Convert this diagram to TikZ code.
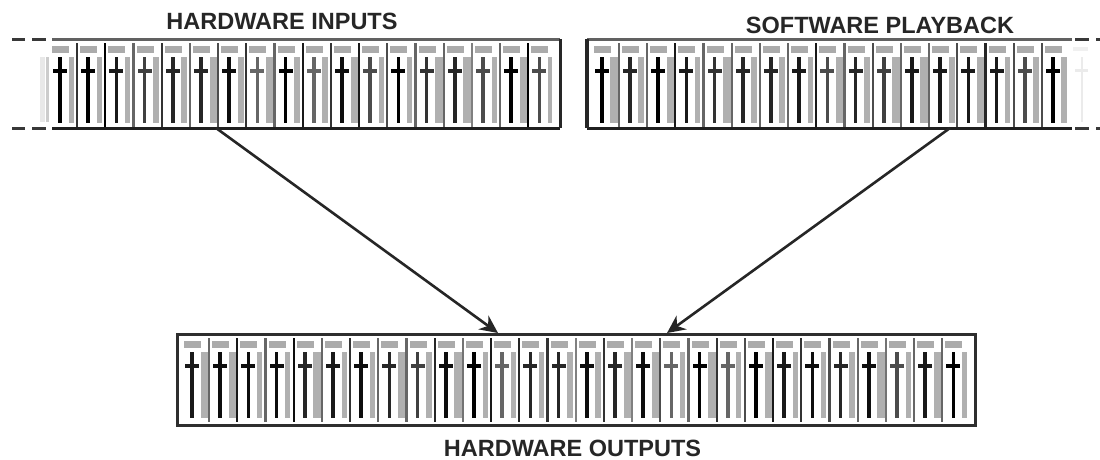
\documentclass[tikz,border=0pt]{standalone}
\usepackage{fontspec}
\setmainfont{Liberation Sans}
\usetikzlibrary{arrows.meta}
\tikzset{
  titletext/.style={inner sep=0pt,font=\fontsize{23.5}{25}\selectfont\bfseries,text=black!85},
  rackbox/.style={inner sep=0pt,minimum height=89pt,anchor=north west},
  topedge/.style={line width=3pt,draw=black!62},
  botedge/.style={line width=3pt,draw=black!88},
  sideedge/.style={line width=3.2pt,draw=black!85},
  dashseg/.style={line width=3pt,draw=black!78},
  flow/.style={line width=2.6pt,draw=black!85,-{Stealth[length=18pt,width=17pt]}},
}
% \stripchannels{first fader x}{box top y}{fader shade/bar width/separator shade list}
\newcommand{\stripchannels}[3]{%
  \foreach \fd/\bw/\sp [count=\n from 0] in {#3}{
    \pgfmathsetmacro{\fx}{#1+28.2*\n}
    \fill[black!33] (\fx-8,#2+6.5) rectangle (\fx+9,#2+14);
    \fill[black!31] (\fx+8.5,#2+18) rectangle (\fx+8+\bw,#2+84);
    \fill[black!\fd] (\fx-1.8,#2+18) rectangle (\fx+1.8,#2+84);
    \fill[black!\fd] (\fx-7,#2+29.5) rectangle (\fx+7,#2+33.5);
    \ifnum\sp>0
      \fill[black!\sp] (\fx+16,#2+4) rectangle (\fx+18.2,#2+88);
    \fi
  }%
}
\begin{document}
\begin{tikzpicture}[x=1pt,y=-1pt]
\useasboundingbox (0,0) rectangle (1100,459);
\fill[white] (0,0) rectangle (1100,459);

\node[titletext] (inlabel) at (282,21) {HARDWARE INPUTS};
\node[titletext] (pblabel) at (880,25) {SOFTWARE PLAYBACK};
\node[titletext] (outlabel) at (572.5,448) {HARDWARE OUTPUTS};

\node[rackbox,minimum width=508pt] (inputs) at (52,39) {};
\node[rackbox,minimum width=485pt] (playback) at (587,39) {};
\node[rackbox,minimum width=798pt,minimum height=91pt] (outputs) at (177,334) {};

% faint neighbouring channels
\fill[black!9] (40,57) rectangle (45,122);
\fill[black!20] (46,57) rectangle (49,122);
\fill[black!6] (1073,47) rectangle (1088,51);
\fill[black!8] (1080.5,57) rectangle (1082.5,122);
\fill[black!8] (1075,69) rectangle (1088,72);

\stripchannels{60}{39}{100/6/80,100/6/100,90/6/60,75/6/80,85/6/60,85/9/70,95/7/80,60/9/60,100/6/90,60/6/80,95/8/90,70/6/70,100/6/60,80/9/60,85/8/50,70/6/60,100/9/100,70/5/0}
\stripchannels{601.7}{39}{100/8/60,85/6/60,100/9/90,90/6/60,80/8/60,85/6/60,85/6/60,90/6/90,70/8/60,85/6/70,75/9/60,90/9/60,90/7/70,90/9/85,90/5/70,70/6/70,100/6/0}
\stripchannels{192}{334}{90/8/60,95/9/90,95/6/60,95/5/95,85/8/60,90/6/80,95/6/60,85/8/60,75/6/85,95/10/55,100/6/90,60/6/85,85/6/80,85/6/50,95/6/80,85/8/50,95/8/70,60/6/60,100/9/80,60/5/70,100/8/90,90/6/80,95/6/70,85/6/60,95/9/55,70/6/60,90/10/60,100/6/0}

% box edges
\draw[topedge] (inputs.north west) -- (inputs.north east);
\draw[botedge] (inputs.south west) -- (inputs.south east);
\draw[sideedge] (inputs.north east) -- (inputs.south east);
\draw[topedge] (playback.north west) -- (playback.north east);
\draw[botedge] (playback.south west) -- (playback.south east);
\draw[sideedge] (playback.north west) -- (playback.south west);
\draw[line width=3pt,draw=black!82] (outputs.south west) rectangle (outputs.north east);

% dashes
\coordinate (il1) at (12,39); \coordinate (il2) at (25,39);
\coordinate (il3) at (32,39); \coordinate (il4) at (46,39);
\coordinate (ib1) at (12,128.5); \coordinate (ib2) at (25,128.5);
\coordinate (ib3) at (32,128.5); \coordinate (ib4) at (46,128.5);
\coordinate (pr1) at (1075,39); \coordinate (pr2) at (1089,39);
\coordinate (pr3) at (1096,39); \coordinate (pr4) at (1100,39);
\coordinate (pb1) at (1075,128.5); \coordinate (pb2) at (1089,128.5);
\coordinate (pb3) at (1096,128.5); \coordinate (pb4) at (1100,128.5);
\foreach \a/\b in {il1/il2,il3/il4,ib1/ib2,ib3/ib4,pr1/pr2,pr3/pr4,pb1/pb2,pb3/pb4}
  \draw[dashseg] (\a) -- (\b);

% connectors
\coordinate (instart) at (216,128);
\coordinate (pbstart) at (950,128);
\coordinate (outleft) at (498,333);
\coordinate (outright) at (667,333);
\draw[flow] (instart) -- (outleft);
\draw[flow] (pbstart) -- (outright);
\end{tikzpicture}
\end{document}
